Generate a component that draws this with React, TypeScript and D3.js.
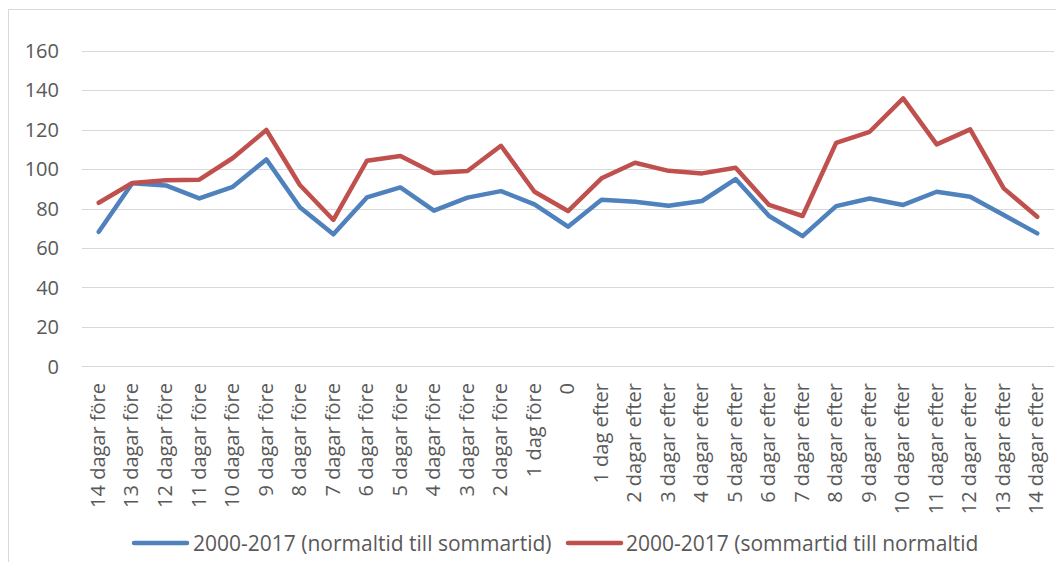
import React from "react";
import * as d3 from "d3";

const categories = [
  "14 dagar före", "13 dagar före", "12 dagar före", "11 dagar före", "10 dagar före",
  "9 dagar före", "8 dagar före", "7 dagar före", "6 dagar före", "5 dagar före",
  "4 dagar före", "3 dagar före", "2 dagar före", "1 dag före", "0",
  "1 dag efter", "2 dagar efter", "3 dagar efter", "4 dagar efter", "5 dagar efter",
  "6 dagar efter", "7 dagar efter", "8 dagar efter", "9 dagar efter", "10 dagar efter",
  "11 dagar efter", "12 dagar efter", "13 dagar efter", "14 dagar efter",
];

const normalToSummer = [
  68.2, 92.8, 91.7, 85.1, 91.0, 104.9, 80.6, 66.9, 85.6, 90.7,
  78.9, 85.5, 88.8, 82.1, 70.8, 84.4, 83.4, 81.4, 83.8, 94.9,
  76.2, 66.0, 81.2, 85.1, 81.8, 88.5, 86.0, 76.7, 67.4,
];

const summerToNormal = [
  82.9, 92.9, 94.3, 94.6, 105.6, 119.8, 91.9, 74.2, 104.2, 106.6,
  98.0, 99.0, 111.8, 88.5, 78.7, 95.3, 103.2, 99.1, 97.8, 100.7,
  81.8, 76.2, 113.3, 118.9, 135.8, 112.5, 120.1, 90.2, 75.8,
];

const yTicks = [0, 20, 40, 60, 80, 100, 120, 140, 160];

const seriesNames = [
  "2000-2017 (normaltid till sommartid)",
  "2000-2017 (sommartid till normaltid",
];

const W = 1056;
const H = 562;
const FONT = "'Open Sans', 'Noto Sans', sans-serif";
const TEXT = "#595959";
const GRID = "#D9D9D9";
const BLUE = "#4F81BD";
const RED = "#C0504D";

export default function App() {
  const x = d3.scalePoint<string>().domain(categories).range([82, 1054]).padding(0.5);
  const y = d3.scaleLinear().domain([0, 160]).range([366.3, 50.7]);

  const line = d3
    .line<number>()
    .x((_, i) => x(categories[i]) as number)
    .y((d) => y(d));

  const series = [
    { name: seriesNames[0], values: normalToSummer, color: BLUE },
    { name: seriesNames[1], values: summerToNormal, color: RED },
  ];

  const legendPos = [
    { lx: 134, tx: 193 },
    { lx: 568, tx: 626 },
  ];

  return (
    <svg
      width={W}
      height={H}
      style={{ position: "absolute", left: 0, top: 0, background: "#fff" }}
      fontFamily={FONT}
    >
      <rect x={0} y={0} width={W} height={H} fill="#fff" />
      <rect x={8.5} y={9.5} width={W + 10} height={H + 10} fill="none" stroke={GRID} strokeWidth={1} />

      {yTicks.map((t) => (
        <g key={t}>
          <line x1={82} x2={1054} y1={Math.round(y(t)) + 0.5} y2={Math.round(y(t)) + 0.5} stroke={GRID} strokeWidth={1.2} />
          <text x={59} y={y(t)} dy="0.36em" textAnchor="end" fontSize={20} fill={TEXT}>
            {t}
          </text>
        </g>
      ))}

      {categories.map((c) => (
        <text
          key={c}
          transform={`translate(${(x(c) as number) - 1},383) rotate(-90)`}
          textAnchor="end"
          dy="0.36em"
          fontSize={20}
          fill={TEXT}
        >
          {c}
        </text>
      ))}

      {series.map((s) => (
        <path
          key={s.name}
          d={line(s.values) as string}
          fill="none"
          stroke={s.color}
          strokeWidth={4.5}
          strokeLinejoin="round"
          strokeLinecap="round"
        />
      ))}

      {series.map((s, i) => (
        <g key={"lg" + i}>
          <line
            x1={legendPos[i].lx}
            x2={legendPos[i].lx + 53}
            y1={543}
            y2={543}
            stroke={s.color}
            strokeWidth={4.5}
            strokeLinecap="round"
          />
          <text x={legendPos[i].tx} y={543} dy="0.36em" fontSize={21} fill={TEXT}>
            {s.name}
          </text>
        </g>
      ))}
    </svg>
  );
}
